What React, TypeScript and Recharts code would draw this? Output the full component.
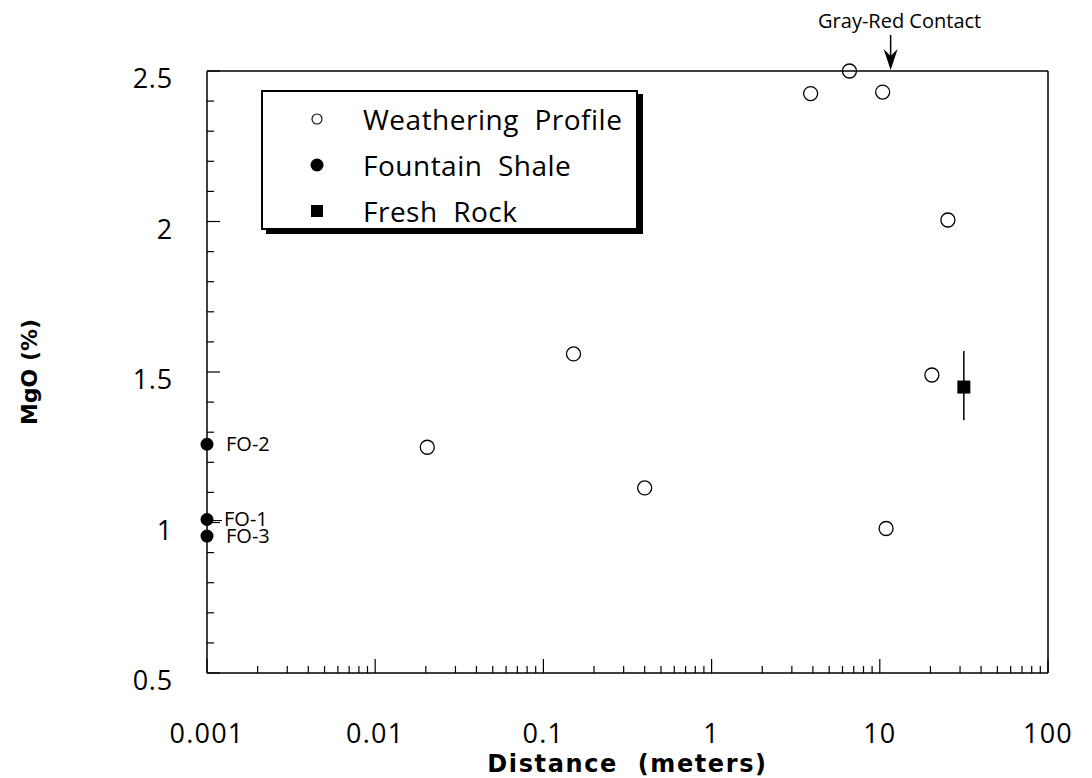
import React from 'react';
import {
  ScatterChart,
  Scatter,
  XAxis,
  YAxis,
  ErrorBar,
  LabelList,
  Label,
  ReferenceDot,
  Legend,
} from 'recharts';

// distances in meters, MgO in percent
const weatheringDistance = [0.0204, 0.151, 0.4, 3.88, 6.6, 10.4, 10.9, 20.4, 25.4];
const weatheringMgO = [1.25, 1.56, 1.115, 2.425, 2.5, 2.43, 0.98, 1.49, 2.005];

const shaleDistance = [0.001, 0.001, 0.001];
const shaleMgO = [1.26, 1.01, 0.955];
const shaleLabels = ['FO-2', 'FO-1', 'FO-3'];

const freshDistance = [31.6];
const freshMgO = [1.45];
const freshError = [[0.11, 0.12]];

const contactDistance = 11.6;

const xMajorTicks = [0.001, 0.01, 0.1, 1, 10, 100];
const xMajorLabels = ['0.001', '0.01', '0.1', '1', '10', '100'];
const xMinorSteps = [2, 3, 4, 5, 6, 7, 8, 9];
const yTicks = [0.5, 0.6, 0.7, 0.8, 0.9, 1, 1.1, 1.2, 1.3, 1.4, 1.5, 1.6, 1.7, 1.8, 1.9, 2, 2.1, 2.2, 2.3, 2.4, 2.5];
const yMajorTicks = [0.5, 1, 1.5, 2, 2.5];
const yMajorLabels = ['0.5', '1', '1.5', '2', '2.5'];

const weathering = weatheringDistance.map((d, i) => ({ d, mgo: weatheringMgO[i] }));
const shale = shaleDistance.map((d, i) => ({ d, mgo: shaleMgO[i], name: shaleLabels[i] }));
const fresh = freshDistance.map((d, i) => ({ d, mgo: freshMgO[i], err: freshError[i] }));

const xTicks = [
  ...xMajorTicks,
  ...xMajorTicks.slice(0, -1).flatMap((m) => xMinorSteps.map((s) => m * s)),
].sort((a, b) => a - b);

const FONT = '"Open Sans", "DejaVu Sans", sans-serif';
const BOLD_FONT = '"DejaVu Sans", sans-serif';

function BottomTick({ x, y, payload }: any) {
  const idx = xMajorTicks.indexOf(payload.value);
  const major = idx >= 0;
  return (
    <g>
      <line x1={x} x2={x} y1={y} y2={y - (major ? 14 : 7)} stroke="#000" strokeWidth={1.2} />
      {major && (
        <text x={x} y={y + 70} textAnchor="middle" fontSize={27} letterSpacing={1.2} fontFamily={FONT} fill="#000">
          {xMajorLabels[idx]}
        </text>
      )}
    </g>
  );
}

function TopTick({ x, y, payload }: any) {
  const major = xMajorTicks.indexOf(payload.value) >= 0;
  return <line x1={x} x2={x} y1={y} y2={y + (major ? 14 : 7)} stroke="#000" strokeWidth={1.2} />;
}

function LeftTick({ x, y, payload }: any) {
  const idx = yMajorTicks.indexOf(payload.value);
  const major = idx >= 0;
  return (
    <g>
      <line x1={x} x2={x + (major ? 13 : 7)} y1={y} y2={y} stroke="#000" strokeWidth={1.2} />
      {major && (
        <text x={x - 34} y={y + 17} textAnchor="end" fontSize={27} letterSpacing={0.8} fontFamily={FONT} fill="#000">
          {yMajorLabels[idx]}
        </text>
      )}
    </g>
  );
}

function RightTick({ x, y, payload }: any) {
  const major = yMajorTicks.indexOf(payload.value) >= 0;
  return <line x1={x} x2={x - (major ? 13 : 7)} y1={y} y2={y} stroke="#000" strokeWidth={1.2} />;
}

const openCircle = (p: any) => (
  <circle cx={p.cx} cy={p.cy} r={7} fill="none" stroke="#000" strokeWidth={1.3} />
);
const filledCircle = (p: any) => <circle cx={p.cx} cy={p.cy} r={6.5} fill="#000" />;
const filledSquare = (p: any) => (
  <rect x={p.cx - 6.5} y={p.cy - 6.5} width={13} height={13} fill="#000" />
);

function ShaleLabel({ x, y, width, height, value }: any) {
  const cx = x + width / 2;
  const cy = y + height / 2;
  const leader = value === 'FO-1';
  return (
    <g>
      {leader && <line x1={cx + 6} x2={cx + 15} y1={cy + 1} y2={cy + 1} stroke="#000" strokeWidth={1} />}
      <text x={cx + (leader ? 17 : 19)} y={cy + 7} fontSize={20} fontFamily={FONT} fill="#000">
        {value}
      </text>
    </g>
  );
}

function ContactMarker({ cx, cy }: any) {
  return (
    <g>
      <line x1={cx} x2={cx} y1={cy - 36} y2={cy - 14} stroke="#000" strokeWidth={1.5} />
      <path d={`M${cx - 7},${cy - 22} L${cx},${cy - 1} L${cx + 7},${cy - 22} L${cx},${cy - 15} Z`} fill="#000" />
      <text x={cx + 9} y={cy - 43} textAnchor="middle" fontSize={20} fontFamily={FONT} fill="#000">
        Gray-Red Contact
      </text>
    </g>
  );
}

function DistanceLabel({ viewBox }: any) {
  const cx = viewBox.x + viewBox.width / 2;
  return (
    <text
      x={cx}
      y={viewBox.y + 99}
      textAnchor="middle"
      fontSize={24}
      fontWeight="bold"
      letterSpacing={1.6}
      fontFamily={BOLD_FONT}
      fill="#000"
      style={{ whiteSpace: 'pre' }}
    >
      {'Distance  (meters)'}
    </text>
  );
}

const legendItems = [
  { label: 'Weathering  Profile', marker: 'open' },
  { label: 'Fountain  Shale', marker: 'dot' },
  { label: 'Fresh  Rock', marker: 'square' },
];

function LegendBox() {
  return (
    <div
      style={{
        position: 'relative',
        width: 373,
        height: 136,
        border: '2px solid #000',
        boxShadow: '5px 4px 0 #000',
        background: '#fff',
        fontFamily: FONT,
        fontSize: 28,
        letterSpacing: 0.5,
        boxSizing: 'content-box',
      }}
    >
      {legendItems.map((it, i) => (
        <div
          key={i}
          style={{ position: 'absolute', left: 0, top: 10 + i * 46, height: 34, display: 'flex', alignItems: 'center' }}
        >
          <svg width={100} height={34} style={{ display: 'block' }}>
            {it.marker === 'open' && <circle cx={54} cy={17} r={5} fill="#fff" stroke="#000" strokeWidth={1.1} />}
            {it.marker === 'dot' && <circle cx={54} cy={17} r={6.5} fill="#000" />}
            {it.marker === 'square' && <rect x={48} y={11} width={12} height={12} fill="#000" />}
          </svg>
          <span style={{ whiteSpace: 'pre', color: '#000', lineHeight: '34px' }}>{it.label}</span>
        </div>
      ))}
    </div>
  );
}

export default function App() {
  return (
    <div style={{ position: 'absolute', left: 0, top: 0, background: '#fff' }}>
      <ScatterChart width={1092} height={778} margin={{ top: 70, right: 43, bottom: 75, left: 147 }}>
        <XAxis
          xAxisId="bottom"
          dataKey="d"
          type="number"
          scale="log"
          domain={[0.001, 100]}
          ticks={xTicks}
          interval={0}
          tick={<BottomTick />}
          tickLine={false}
          tickSize={0}
          tickMargin={0}
          height={30}
          axisLine={{ stroke: '#000', strokeWidth: 1.5 }}
        >
          <Label position="bottom" content={<DistanceLabel />} />
        </XAxis>
        <XAxis
          xAxisId="top"
          orientation="top"
          dataKey="d"
          type="number"
          scale="log"
          domain={[0.001, 100]}
          ticks={xTicks}
          interval={0}
          tick={<TopTick />}
          tickLine={false}
          tickSize={0}
          tickMargin={0}
          height={1}
          axisLine={{ stroke: '#000', strokeWidth: 1.5 }}
        />
        <YAxis
          yAxisId="left"
          dataKey="mgo"
          type="number"
          domain={[0.5, 2.5]}
          ticks={yTicks}
          interval={0}
          tick={<LeftTick />}
          tickLine={false}
          tickSize={0}
          tickMargin={0}
          width={60}
          axisLine={{ stroke: '#000', strokeWidth: 1.5 }}
          label={{
            value: 'MgO (%)',
            angle: -90,
            position: 'left',
            offset: 118,
            style: { fontFamily: BOLD_FONT, fontWeight: 'bold', fontSize: 22, fill: '#000', textAnchor: 'middle' },
          }}
        />
        <YAxis
          yAxisId="right"
          orientation="right"
          dataKey="mgo"
          type="number"
          domain={[0.5, 2.5]}
          ticks={yTicks}
          interval={0}
          tick={<RightTick />}
          tickLine={false}
          tickSize={0}
          tickMargin={0}
          width={1}
          axisLine={{ stroke: '#000', strokeWidth: 1.5 }}
        />
        <Legend
          layout="horizontal"
          verticalAlign="middle"
          align="center"
          content={() => <LegendBox />}
          wrapperStyle={{ position: 'absolute', left: 261, top: 90, width: 380, height: 142 }}
        />
        <Scatter
          name="Weathering Profile"
          data={weathering}
          xAxisId="bottom"
          yAxisId="left"
          shape={openCircle}
          isAnimationActive={false}
        />
        <Scatter
          name="Fountain Shale"
          data={shale}
          xAxisId="bottom"
          yAxisId="left"
          shape={filledCircle}
          isAnimationActive={false}
        >
          <LabelList dataKey="name" content={<ShaleLabel />} />
        </Scatter>
        <Scatter
          name="Fresh Rock"
          data={fresh}
          xAxisId="bottom"
          yAxisId="left"
          shape={filledSquare}
          isAnimationActive={false}
        >
          <ErrorBar dataKey="err" direction="y" width={0} stroke="#000" strokeWidth={1.5} />
        </Scatter>
        <ReferenceDot
          x={contactDistance}
          y={2.5}
          xAxisId="bottom"
          yAxisId="left"
          ifOverflow="visible"
          shape={<ContactMarker />}
        />
      </ScatterChart>
    </div>
  );
}
